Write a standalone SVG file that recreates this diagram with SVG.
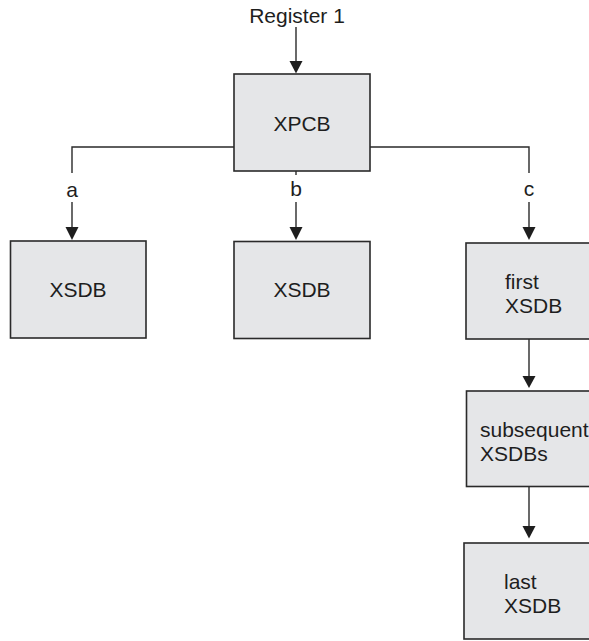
<svg xmlns="http://www.w3.org/2000/svg" width="589" height="641" viewBox="0 0 589 641">
<defs>
<style>
.box{fill:#e5e6e8;stroke:#2a2a2a;stroke-width:1.6}
.ln{fill:none;stroke:#2a2a2a;stroke-width:1.4}
.ah{fill:#1e1e1e}
.t{font-family:"Liberation Sans",Arial,sans-serif;font-size:21px;fill:#1e1e1e}
.c{text-anchor:middle}
</style>
</defs>
<rect width="589" height="641" fill="#ffffff"/>
<g id="connectors">
<line class="ln" x1="296" y1="27" x2="296" y2="61"/>
<path class="ah" d="M289.5,61 L302.5,61 L296,73.5 Z"/>
<path class="ln" d="M72,173 V147 H234 M370,147 H529 V173"/>
<line class="ln" x1="296" y1="171" x2="296" y2="175"/>
<line class="ln" x1="72" y1="202" x2="72" y2="228"/>
<path class="ah" d="M65.5,227 L78.5,227 L72,240 Z"/>
<line class="ln" x1="296" y1="202" x2="296" y2="228"/>
<path class="ah" d="M289.5,227 L302.5,227 L296,240 Z"/>
<line class="ln" x1="529" y1="202" x2="529" y2="228"/>
<path class="ah" d="M522.5,227 L535.5,227 L529,240 Z"/>
<line class="ln" x1="529" y1="339" x2="529" y2="377"/>
<path class="ah" d="M522.5,376 L535.5,376 L529,388 Z"/>
<line class="ln" x1="529" y1="487" x2="529" y2="527"/>
<path class="ah" d="M522.5,526 L535.5,526 L529,538.5 Z"/>
<text class="t c" x="72" y="196.5">a</text>
<text class="t c" x="296" y="196">b</text>
<text class="t c" x="529" y="196">c</text>
</g>
<g id="register">
<text class="t c" x="297" y="23">Register 1</text>
</g>
<g id="xpcb">
<rect class="box" x="234" y="74" width="136" height="97"/>
<text class="t c" x="302" y="130.5">XPCB</text>
</g>
<g id="xsdb-a">
<rect class="box" x="10.5" y="241" width="135.5" height="97"/>
<text class="t c" x="78" y="297">XSDB</text>
</g>
<g id="xsdb-b">
<rect class="box" x="234" y="241.5" width="136" height="97"/>
<text class="t c" x="302" y="297">XSDB</text>
</g>
<g id="first-xsdb">
<rect class="box" x="466" y="243" width="140" height="96"/>
<text class="t" x="505" y="289">first</text>
<text class="t" x="505" y="312.5">XSDB</text>
</g>
<g id="subsequent-xsdbs">
<rect class="box" x="466.5" y="391" width="140" height="95.5"/>
<text class="t" x="480" y="436.5">subsequent</text>
<text class="t" x="480" y="460.5">XSDBs</text>
</g>
<g id="last-xsdb">
<rect class="box" x="464" y="543" width="142" height="96"/>
<text class="t" x="504" y="588.5">last</text>
<text class="t" x="504" y="612.5">XSDB</text>
</g>
</svg>
